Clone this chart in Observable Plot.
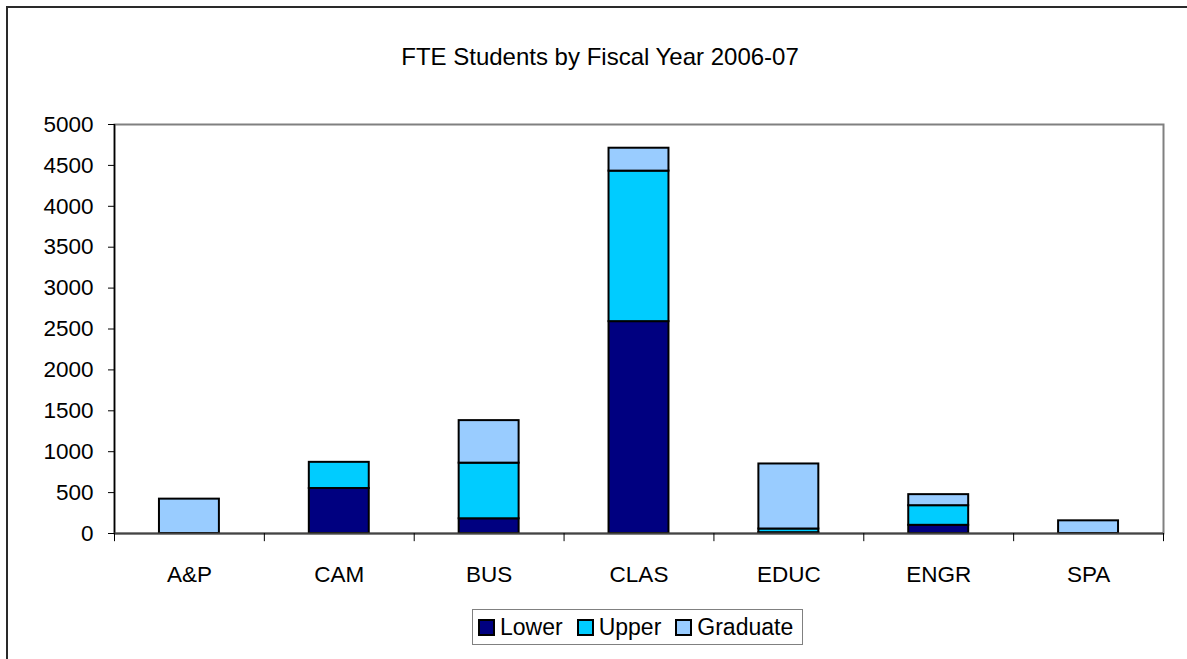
<!DOCTYPE html>
<html>
<head>
<meta charset="utf-8">
<script src="https://cdn.jsdelivr.net/npm/d3@7"></script>
<script src="https://cdn.jsdelivr.net/npm/@observablehq/plot@0.6"></script>
<style>
  html, body { margin: 0; padding: 0; background: #fff; overflow: hidden; }
  #wrap { position: relative; width: 1187px; height: 659px; overflow: hidden; font-family: "Liberation Sans", Arial, sans-serif; }
  #frame { position: absolute; left: 6px; top: 6px; width: 1400px; height: 900px; border: 2px solid #2a2a2a; box-sizing: border-box; }
  #title { position: absolute; left: 0; width: 1200px; top: 43px; text-align: center; font-size: 24px; color: #000; }
  #chart { position: absolute; left: 0; top: 100px; }
  #legend { position: absolute; left: 472px; top: 609px; width: 331px; height: 36px; border: 1px solid #808080; box-sizing: border-box;
            display: flex; align-items: center; padding-left: 5px; font-size: 23px; color: #000; }
  .item { display: flex; align-items: center; margin-right: 14px; }
  .sw { width: 13px; height: 13px; border: 2px solid #000; margin-right: 5px; }
</style>
</head>
<body>
<div id="wrap">
  <div id="frame"></div>
  <div id="title">FTE Students by Fiscal Year 2006-07</div>
  <div id="chart"></div>
  <div id="legend"></div>
</div>
<script>
const categories = ["A&P", "CAM", "BUS", "CLAS", "EDUC", "ENGR", "SPA"];
const series = ["Lower", "Upper", "Graduate"];
const lower    = [0,   550, 180, 2590, 10,  100, 0];
const upper    = [0,   320, 680, 1840, 45,  240, 0];
const graduate = [420, 0,   520, 280,  795, 135, 155];
const colors = ["#000080", "#00CCFF", "#99CCFF"];
const yTicks = [0, 500, 1000, 1500, 2000, 2500, 3000, 3500, 4000, 4500, 5000];

const values = [lower, upper, graduate];
const data = [];
categories.forEach((c, i) => {
  series.forEach((s, j) => {
    data.push({category: c, series: s, value: values[j][i]});
  });
});

const W = 1187, ML = 114, MR = 24;
const step = (W - ML - MR) / categories.length;

const plot = Plot.plot({
  width: W,
  height: 493,
  marginTop: 24,
  marginBottom: 60,
  marginLeft: ML,
  marginRight: MR,
  style: {fontFamily: "'Liberation Sans', Arial, sans-serif", fontSize: "22px", color: "#000", background: "transparent"},
  x: {domain: categories, paddingInner: 0.6, paddingOuter: 0.3, round: false, label: null},
  y: {domain: [0, 5000], ticks: yTicks, label: null},
  color: {domain: series, range: colors},
  marks: [
    Plot.frame({stroke: "#808080", strokeWidth: 2}),
    Plot.barY(data.filter(d => d.value > 0), {
      x: "category", y: "value", fill: "series", stroke: "#000", strokeWidth: 2,
      order: series
    }),
    Plot.ruleX([categories[0]], {x: d => d, dx: -step / 2, y1: 0, y2: 5000, stroke: "#000", strokeWidth: 1.5}),
    Plot.ruleY([0], {stroke: "#444", strokeWidth: 2}),
    Plot.ruleX(categories, {x: d => d, dx: -step / 2, y1: 0, y2: -100, stroke: "#000", strokeWidth: 1}),
    Plot.ruleX([categories[categories.length - 1]], {x: d => d, dx: step / 2, y1: 0, y2: -100, stroke: "#000", strokeWidth: 1}),
    Plot.axisY({ticks: yTicks, tickSize: 6, tickPadding: 15, tickFormat: d => String(d), stroke: "#000", fontSize: 22.5}),
    Plot.axisX({tickSize: 0, tickPadding: 33, fontSize: 22.5})
  ]
});
document.getElementById("chart").appendChild(plot);

const legend = document.getElementById("legend");
series.forEach((s, i) => {
  const item = document.createElement("div");
  item.className = "item";
  const sw = document.createElement("div");
  sw.className = "sw";
  sw.style.background = colors[i];
  const t = document.createElement("span");
  t.textContent = s;
  item.appendChild(sw);
  item.appendChild(t);
  legend.appendChild(item);
});
</script>
</body>
</html>
